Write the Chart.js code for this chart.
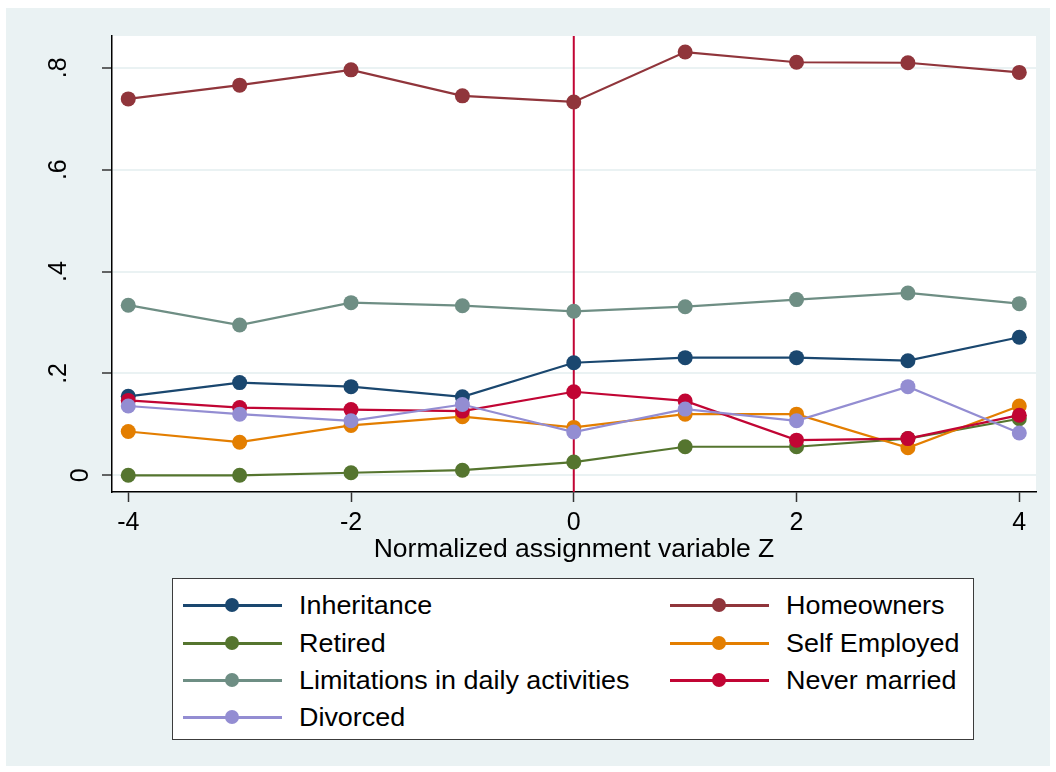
<!DOCTYPE html>
<html lang="en">
<head>
<meta charset="UTF-8">
<title>Outcomes by normalized assignment variable</title>
<script src="https://cdn.jsdelivr.net/npm/chart.js"></script>
<style>
  body { margin: 0; background: #fff; font-family: "Liberation Sans", Arial, sans-serif; }
  #frame { position: absolute; left: 6px; top: 8px; width: 1044px; height: 758px; background: #eaf2f3; }
  #chart { position: absolute; left: 0; top: 0; }
  #legend { position: absolute; left: 172px; top: 578px; width: 800px; height: 160px;
            background: #fff; border: 1.5px solid #3c3c3c; }
  .item { position: absolute; height: 30px; display: flex; align-items: center; font-size: 26px; color: #000; white-space: nowrap; }
  .item .txt { display: inline-block; transform: scaleX(1.035); transform-origin: left center; }
  .swatch { position: relative; width: 99px; height: 30px; margin-right: 17px; }
  .swatch .ln { position: absolute; left: 0; right: 0; top: 14px; height: 2.5px; }
  .swatch .dot { position: absolute; left: 42px; top: 8px; width: 14px; height: 14px; border-radius: 50%; }
</style>
</head>
<body>
<div id="frame"></div>
<canvas id="chart" width="1056" height="772"></canvas>
<div id="legend"></div>

<script>
// data
const zValues = [-4, -3, -2, -1, 0, 1, 2, 3, 4];
const inheritance  = [0.155, 0.182, 0.174, 0.154, 0.221, 0.231, 0.231, 0.225, 0.271];
const homeowners   = [0.739, 0.766, 0.796, 0.745, 0.733, 0.831, 0.811, 0.810, 0.791];
const retired      = [0.000, 0.000, 0.005, 0.010, 0.026, 0.056, 0.056, 0.072, 0.111];
const selfEmployed = [0.086, 0.065, 0.098, 0.115, 0.094, 0.120, 0.120, 0.054, 0.136];
const limitations  = [0.334, 0.295, 0.339, 0.333, 0.322, 0.331, 0.345, 0.358, 0.337];
const neverMarried = [0.147, 0.133, 0.129, 0.126, 0.164, 0.146, 0.069, 0.072, 0.118];
const divorced     = [0.136, 0.120, 0.107, 0.139, 0.085, 0.130, 0.107, 0.174, 0.083];

const seriesNames  = ['Inheritance', 'Homeowners', 'Retired', 'Self Employed',
                      'Limitations in daily activities', 'Never married', 'Divorced'];
const seriesValues = [inheritance, homeowners, retired, selfEmployed, limitations, neverMarried, divorced];
const seriesColors = ['#1a476f', '#90353b', '#55752f', '#e37e00', '#6e8e84', '#c10534', '#938dd2'];

const xTicks = [-4, -2, 0, 2, 4];
const yTicks = [0, 0.2, 0.4, 0.6, 0.8];
const cutoff = 0;
const xTitle = 'Normalized assignment variable Z';

const FONT = '"Liberation Sans", Arial, sans-serif';

function fmtY(v) {
    if (v === 0) return '0';
    return v.toFixed(1).replace(/^0/, '');
}

// white plot region
const plotBg = {
    id: 'plotBg',
    beforeDraw(chart) {
        const a = chart.chartArea, ctx = chart.ctx;
        ctx.save();
        ctx.fillStyle = '#fff';
        ctx.fillRect(a.left, a.top, a.right - a.left, a.bottom - a.top);
        ctx.restore();
    }
};

// vertical line at the cutoff, under the markers
const cutoffLine = {
    id: 'cutoffLine',
    beforeDatasetsDraw(chart) {
        const a = chart.chartArea, ctx = chart.ctx;
        const x = chart.scales.x.getPixelForValue(cutoff);
        ctx.save();
        ctx.strokeStyle = '#c10534';
        ctx.lineWidth = 2;
        ctx.beginPath();
        ctx.moveTo(x, a.top);
        ctx.lineTo(x, a.bottom);
        ctx.stroke();
        ctx.restore();
    }
};

// stata style vertical y labels
const yLabels = {
    id: 'yLabels',
    afterDraw(chart) {
        const s = chart.scales.y, ctx = chart.ctx;
        ctx.save();
        ctx.fillStyle = '#000';
        ctx.font = '25px ' + FONT;
        ctx.textAlign = 'center';
        ctx.textBaseline = 'middle';
        s.ticks.forEach(t => {
            const label = fmtY(t.value);
            const y = s.getPixelForValue(t.value);
            const cx = s.right - (label.length > 1 ? 53 : 31);
            ctx.save();
            ctx.translate(cx, y);
            ctx.rotate(-Math.PI / 2);
            ctx.fillText(label, 0, 0);
            ctx.restore();
        });
        ctx.restore();
    }
};

const datasets = seriesNames.map((name, i) => ({
    label: name,
    data: zValues.map((z, j) => ({ x: z, y: seriesValues[i][j] })),
    borderColor: seriesColors[i],
    backgroundColor: seriesColors[i],
    borderWidth: 2.2,
    pointRadius: 7.5,
    pointBorderWidth: 0,
    pointHoverRadius: 7.5,
    order: seriesNames.length - i
}));

new Chart(document.getElementById('chart'), {
    type: 'line',
    data: { datasets },
    options: {
        responsive: false,
        animation: false,
        events: [],
        layout: { padding: { left: 0, top: 36, right: 20, bottom: 200 } },
        plugins: { legend: { display: false }, tooltip: { enabled: false } },
        scales: {
            x: {
                type: 'linear',
                min: -4.146,
                max: 4.15,
                afterBuildTicks: s => { s.ticks = xTicks.map(v => ({ value: v })); },
                afterFit: s => { s.height = 80; },
                grid: { drawOnChartArea: false, tickLength: 10, tickColor: '#333', tickWidth: 1.5 },
                border: { display: true, color: '#000', width: 1.5 },
                ticks: { color: '#000', font: { family: FONT, size: 25 }, padding: 6, maxRotation: 0 },
                title: { display: true, text: xTitle, color: '#000', font: { family: FONT, size: 26.5 }, padding: { top: 0, bottom: 6 } }
            },
            y: {
                min: -0.0328,
                max: 0.8625,
                afterBuildTicks: s => { s.ticks = yTicks.map(v => ({ value: v })); },
                afterFit: s => { s.width = 112; },
                grid: { color: '#eaf2f3', lineWidth: 2, tickLength: 10, tickColor: '#333', tickWidth: 1.5 },
                border: { display: true, color: '#000', width: 1.5 },
                ticks: { display: false }
            }
        }
    },
    plugins: [plotBg, cutoffLine, yLabels]
});

// legend, two columns filled row by row
const legend = document.getElementById('legend');
const rowCenters = [26, 64, 101, 138];
seriesNames.forEach((name, i) => {
    const item = document.createElement('div');
    item.className = 'item';
    item.style.left = (i % 2 === 0 ? 10 : 497) + 'px';
    item.style.top = (rowCenters[Math.floor(i / 2)] - 15) + 'px';
    item.innerHTML = '<span class="swatch"><span class="ln"></span><span class="dot"></span></span><span class="txt"></span>';
    item.querySelector('.ln').style.background = seriesColors[i];
    item.querySelector('.dot').style.background = seriesColors[i];
    item.querySelector('.txt').textContent = name;
    legend.appendChild(item);
});
</script>
</body>
</html>
